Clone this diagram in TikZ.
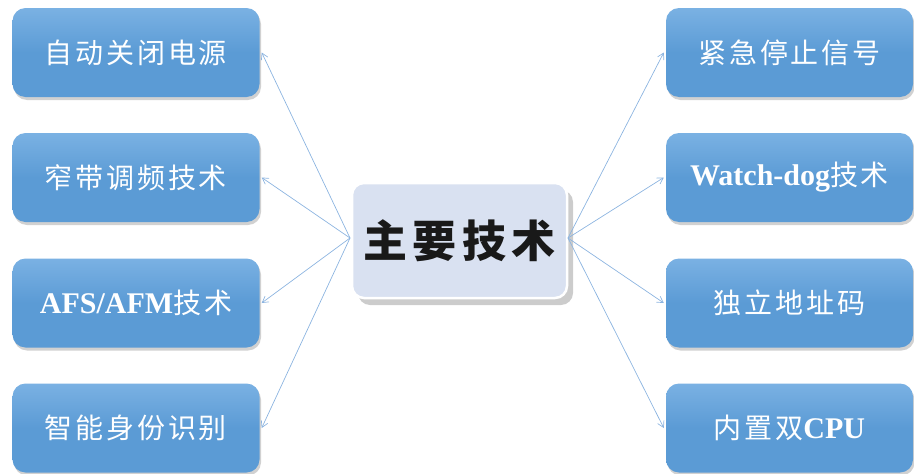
\documentclass[tikz,border=0pt]{standalone}
\usepackage{fontspec}
\setmainfont{Liberation Serif}
\newfontfamily\cjk{Noto Sans CJK SC}[LetterSpace=10]
\newfontfamily\cjkbig{Noto Sans CJK SC}[LetterSpace=12]
\usetikzlibrary{arrows.meta,shadows}
\definecolor{boxblue}{HTML}{5B9BD5}
\definecolor{boxtop}{HTML}{7AB1E3}
\definecolor{centerfill}{HTML}{D9E1F1}
\definecolor{linkblue}{HTML}{8CB4E0}
\tikzset{
  side/.style={rounded corners=13pt, minimum width=247pt, minimum height=89pt,
    top color=boxtop, bottom color=boxblue, middle color=boxblue, draw=none,
    text=white, font=\fontsize{28}{30}\selectfont\cjk,
    drop shadow={shadow xshift=1.5pt, shadow yshift=-3pt, opacity=0.3, fill=black!60}},
  hub/.style={rounded corners=12pt, minimum width=215pt, minimum height=115pt,
    fill=centerfill, draw=white, line width=2.5pt,
    font=\fontsize{44}{48}\selectfont\cjkbig\bfseries, text=black!90,
    drop shadow={shadow xshift=6pt, shadow yshift=-7pt, opacity=0.4, fill=black!50}},
  link/.style={draw=linkblue, line width=0.7pt, -{Straight Barb[length=6pt,width=7pt]}}
}
\newcommand{\lat}[1]{{\fontsize{30}{32}\selectfont\rmfamily\bfseries #1}}
\begin{document}
\begin{tikzpicture}[x=1pt,y=-1pt]
\useasboundingbox (0,0) rectangle (914,474);
\node[hub] (c) at (459.5,240.5) {主要技术};
\node[side] (l1) at (136,52.5) {自动关闭电源};
\node[side] (l2) at (136,177.5) {窄带调频技术};
\node[side] (l3) at (136,303) {\lat{AFS/AFM}技术};
\node[side] (l4) at (136,428) {智能身份识别};
\node[side] (r1) at (789.5,52.5) {紧急停止信号};
\node[side] (r2) at (789.5,177.5) {\lat{Watch-dog}技术};
\node[side] (r3) at (789.5,303) {独立地址码};
\node[side] (r4) at (789.5,428) {内置双\lat{CPU}};
\coordinate (cl) at (350,238);
\coordinate (cr) at (568,238);
\foreach \n in {l1,l2,l3,l4} \draw[link] (cl) -- ([xshift=2pt]\n.east);
\foreach \n in {r1,r2,r3,r4} \draw[link] (cr) -- ([xshift=-2pt]\n.west);
\end{tikzpicture}
\end{document}
